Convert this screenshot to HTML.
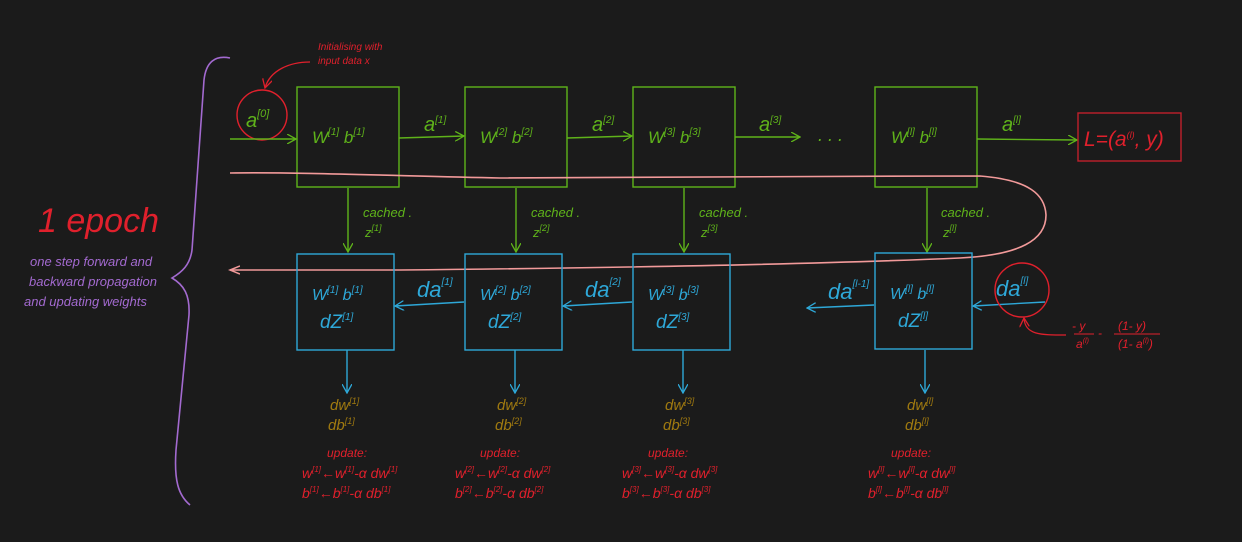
<!DOCTYPE html>
<html><head><meta charset="utf-8"><style>
html,body{margin:0;padding:0;background:#1b1b1b;}
svg{display:block}
text{font-family:"Liberation Sans",sans-serif;font-style:italic;}
</style></head><body>
<svg width="1242" height="542" viewBox="0 0 1242 542" xmlns="http://www.w3.org/2000/svg">
<rect width="1242" height="542" fill="#1b1b1b"/>
<defs>
<marker id="ag" markerWidth="10" markerHeight="10" refX="9" refY="5" orient="auto" markerUnits="userSpaceOnUse"><path d="M0,0 L9,5 L0,10" fill="none" stroke="#5fb31a" stroke-width="1.3"/></marker>
<marker id="ab" markerWidth="10" markerHeight="10" refX="9" refY="5" orient="auto" markerUnits="userSpaceOnUse"><path d="M0,0 L9,5 L0,10" fill="none" stroke="#2ea8d8" stroke-width="1.3"/></marker>
<marker id="ar" markerWidth="10" markerHeight="10" refX="9" refY="5" orient="auto" markerUnits="userSpaceOnUse"><path d="M0,0 L9,5 L0,10" fill="none" stroke="#e0202c" stroke-width="1.3"/></marker>
<marker id="ap" markerWidth="12" markerHeight="10" refX="10" refY="5" orient="auto" markerUnits="userSpaceOnUse"><path d="M0,1 L10,5 L0,9" fill="none" stroke="#f29a9a" stroke-width="1.5"/></marker>
</defs>

<!-- brace -->
<path d="M230,58 C215,55 206,62 204,80 L192,250 C190,265 182,272 172,278 C184,285 190,295 189,315 L176,450 C174,480 178,495 190,505" fill="none" stroke="#a36ad0" stroke-width="1.6"/>
<text x="38" y="232" fill="#e0202c" font-size="34" font-family="Liberation Serif">1 epoch</text>
<g fill="#a36ad0" font-size="13">
<text x="30" y="266">one step forward and</text>
<text x="29" y="286">backward propagation</text>
<text x="24" y="306">and updating weights</text>
</g>

<!-- input circle -->
<circle cx="262" cy="115" r="25" fill="none" stroke="#e0202c" stroke-width="1.4"/>
<text x="246" y="127" fill="#5fb31a" font-size="20">a<tspan dy="-10" font-size="11">[0]</tspan></text>
<path d="M310,62 C290,62 270,70 265,88" fill="none" stroke="#e0202c" stroke-width="1.3" marker-end="url(#ar)"/>
<g fill="#e0202c" font-size="10"><text x="318" y="50">Initialising with</text><text x="318" y="64">input data x</text></g>

<!-- green boxes -->
<g fill="none" stroke="#5fb31a" stroke-width="1.4">
<rect x="297" y="87" width="102" height="100"/>
<rect x="465" y="87" width="102" height="100"/>
<rect x="633" y="87" width="102" height="100"/>
<rect x="875" y="87" width="102" height="100"/>
<path d="M230,139 L296,139" marker-end="url(#ag)"/>
<path d="M399,138 L464,136" marker-end="url(#ag)"/>
<path d="M567,138 L632,136" marker-end="url(#ag)"/>
<path d="M735,137 L800,137" marker-end="url(#ag)"/>
<path d="M977,139 L1077,140" marker-end="url(#ag)"/>
<path d="M348,188 L348,252" marker-end="url(#ag)"/>
<path d="M516,188 L516,252" marker-end="url(#ag)"/>
<path d="M684,188 L684,252" marker-end="url(#ag)"/>
<path d="M927,188 L927,252" marker-end="url(#ag)"/>
</g>
<g fill="#5fb31a" font-size="17">
<text x="312" y="143">W<tspan dy="-8" font-size="10">[1]</tspan><tspan dy="8"> b</tspan><tspan dy="-8" font-size="10">[1]</tspan></text>
<text x="480" y="143">W<tspan dy="-8" font-size="10">[2]</tspan><tspan dy="8"> b</tspan><tspan dy="-8" font-size="10">[2]</tspan></text>
<text x="648" y="143">W<tspan dy="-8" font-size="10">[3]</tspan><tspan dy="8"> b</tspan><tspan dy="-8" font-size="10">[3]</tspan></text>
<text x="891" y="143">W<tspan dy="-8" font-size="10">[l]</tspan><tspan dy="8"> b</tspan><tspan dy="-8" font-size="10">[l]</tspan></text>
<text x="424" y="131" font-size="20">a<tspan dy="-8" font-size="10">[1]</tspan></text>
<text x="592" y="131" font-size="20">a<tspan dy="-8" font-size="10">[2]</tspan></text>
<text x="759" y="131" font-size="20">a<tspan dy="-8" font-size="10">[3]</tspan></text>
<text x="1002" y="131" font-size="20">a<tspan dy="-8" font-size="10">[l]</tspan></text>
<text x="818" y="141" font-size="18" font-style="normal">. . .</text>
<g font-size="13"><text x="363" y="217">cached .</text><text x="365" y="237">z<tspan dy="-6" font-size="9">[1]</tspan></text>
<text x="531" y="217">cached .</text><text x="533" y="237">z<tspan dy="-6" font-size="9">[2]</tspan></text>
<text x="699" y="217">cached .</text><text x="701" y="237">z<tspan dy="-6" font-size="9">[3]</tspan></text>
<text x="941" y="217">cached .</text><text x="943" y="237">z<tspan dy="-6" font-size="9">[l]</tspan></text></g>
</g>

<!-- loss box -->
<rect x="1078" y="113" width="103" height="48" fill="none" stroke="#c0202c" stroke-width="1.4"/>
<text x="1084" y="146" fill="#e0202c" font-size="21">L=(a<tspan dy="-8" font-size="9">(l)</tspan><tspan dy="8">, y)</tspan></text>

<!-- pink loop -->
<path d="M230,173 C300,172 400,176 500,178 C600,178 800,176 980,176 C1030,180 1045,195 1046,215 C1046,240 1020,255 960,258 C800,265 600,268 400,270 C330,270 280,270 230,270" fill="none" stroke="#f29a9a" stroke-width="1.6" marker-end="url(#ap)"/>

<!-- blue boxes -->
<g fill="none" stroke="#2ea8d8" stroke-width="1.4">
<rect x="297" y="254" width="97" height="96"/>
<rect x="465" y="254" width="97" height="96"/>
<rect x="633" y="254" width="97" height="96"/>
<rect x="875" y="253" width="97" height="96"/>
<path d="M464,302 L395,306" marker-end="url(#ab)"/>
<path d="M632,302 L563,306" marker-end="url(#ab)"/>
<path d="M874,305 L807,308" marker-end="url(#ab)"/>
<path d="M1045,302 L973,306" marker-end="url(#ab)"/>
<path d="M347,350 L347,393" marker-end="url(#ab)"/>
<path d="M515,350 L515,393" marker-end="url(#ab)"/>
<path d="M683,350 L683,393" marker-end="url(#ab)"/>
<path d="M925,350 L925,393" marker-end="url(#ab)"/>
</g>
<g fill="#2ea8d8" font-size="16">
<text x="312" y="300">W<tspan dy="-7" font-size="10">[1]</tspan><tspan dy="7"> b</tspan><tspan dy="-7" font-size="10">[1]</tspan></text>
<text x="320" y="328" font-size="19">dZ<tspan dy="-8" font-size="10">[1]</tspan></text>
<text x="480" y="300">W<tspan dy="-7" font-size="10">[2]</tspan><tspan dy="7"> b</tspan><tspan dy="-7" font-size="10">[2]</tspan></text>
<text x="488" y="328" font-size="19">dZ<tspan dy="-8" font-size="10">[2]</tspan></text>
<text x="648" y="300">W<tspan dy="-7" font-size="10">[3]</tspan><tspan dy="7"> b</tspan><tspan dy="-7" font-size="10">[3]</tspan></text>
<text x="656" y="328" font-size="19">dZ<tspan dy="-8" font-size="10">[3]</tspan></text>
<text x="890" y="299">W<tspan dy="-7" font-size="10">[l]</tspan><tspan dy="7"> b</tspan><tspan dy="-7" font-size="10">[l]</tspan></text>
<text x="898" y="327" font-size="19">dZ<tspan dy="-8" font-size="10">[l]</tspan></text>
<text x="417" y="297" font-size="22">da<tspan dy="-12" font-size="10">[1]</tspan></text>
<text x="585" y="297" font-size="22">da<tspan dy="-12" font-size="10">[2]</tspan></text>
<text x="828" y="299" font-size="22">da<tspan dy="-12" font-size="10">[l-1]</tspan></text>
<text x="996" y="296" font-size="22">da<tspan dy="-12" font-size="10">[l]</tspan></text>
</g>
<circle cx="1022" cy="290" r="27" fill="none" stroke="#e0202c" stroke-width="1.4"/>
<path d="M1066,335 C1040,335 1025,335 1024,318" fill="none" stroke="#e0202c" stroke-width="1.3" marker-end="url(#ar)"/>
<g fill="#e0202c" font-size="12">
<text x="1072" y="330">- y</text><line x1="1074" y1="334" x2="1094" y2="334" stroke="#e0202c"/><text x="1076" y="348">a<tspan dy="-5" font-size="7">(l)</tspan></text>
<text x="1098" y="337">-</text>
<text x="1118" y="330">(1- y)</text><line x1="1114" y1="334" x2="1160" y2="334" stroke="#e0202c"/><text x="1118" y="348">(1- a<tspan dy="-5" font-size="7">(l)</tspan><tspan dy="5">)</tspan></text>
</g>

<!-- dw db -->
<g fill="#a07a10" font-size="15">
<text x="330" y="410">dw<tspan dy="-6" font-size="9">[1]</tspan></text><text x="328" y="430">db<tspan dy="-6" font-size="9">[1]</tspan></text>
<text x="497" y="410">dw<tspan dy="-6" font-size="9">[2]</tspan></text><text x="495" y="430">db<tspan dy="-6" font-size="9">[2]</tspan></text>
<text x="665" y="410">dw<tspan dy="-6" font-size="9">[3]</tspan></text><text x="663" y="430">db<tspan dy="-6" font-size="9">[3]</tspan></text>
<text x="907" y="410">dw<tspan dy="-6" font-size="9">[l]</tspan></text><text x="905" y="430">db<tspan dy="-6" font-size="9">[l]</tspan></text>
</g>
<!-- updates -->
<g fill="#e0202c" font-size="14">
<g font-size="12"><text x="327" y="457">update:</text><text x="480" y="457">update:</text><text x="648" y="457">update:</text><text x="891" y="457">update:</text></g>
<text x="302" y="478">w<tspan dy="-6" font-size="8">[1]</tspan><tspan dy="6">←w</tspan><tspan dy="-6" font-size="8">[1]</tspan><tspan dy="6">-α dw</tspan><tspan dy="-6" font-size="8">[1]</tspan></text>
<text x="302" y="498">b<tspan dy="-6" font-size="8">[1]</tspan><tspan dy="6">←b</tspan><tspan dy="-6" font-size="8">[1]</tspan><tspan dy="6">-α db</tspan><tspan dy="-6" font-size="8">[1]</tspan></text>
<text x="455" y="478">w<tspan dy="-6" font-size="8">[2]</tspan><tspan dy="6">←w</tspan><tspan dy="-6" font-size="8">[2]</tspan><tspan dy="6">-α dw</tspan><tspan dy="-6" font-size="8">[2]</tspan></text>
<text x="455" y="498">b<tspan dy="-6" font-size="8">[2]</tspan><tspan dy="6">←b</tspan><tspan dy="-6" font-size="8">[2]</tspan><tspan dy="6">-α db</tspan><tspan dy="-6" font-size="8">[2]</tspan></text>
<text x="622" y="478">w<tspan dy="-6" font-size="8">[3]</tspan><tspan dy="6">←w</tspan><tspan dy="-6" font-size="8">[3]</tspan><tspan dy="6">-α dw</tspan><tspan dy="-6" font-size="8">[3]</tspan></text>
<text x="622" y="498">b<tspan dy="-6" font-size="8">[3]</tspan><tspan dy="6">←b</tspan><tspan dy="-6" font-size="8">[3]</tspan><tspan dy="6">-α db</tspan><tspan dy="-6" font-size="8">[3]</tspan></text>
<text x="868" y="478">w<tspan dy="-6" font-size="8">[l]</tspan><tspan dy="6">←w</tspan><tspan dy="-6" font-size="8">[l]</tspan><tspan dy="6">-α dw</tspan><tspan dy="-6" font-size="8">[l]</tspan></text>
<text x="868" y="498">b<tspan dy="-6" font-size="8">[l]</tspan><tspan dy="6">←b</tspan><tspan dy="-6" font-size="8">[l]</tspan><tspan dy="6">-α db</tspan><tspan dy="-6" font-size="8">[l]</tspan></text>
</g>
</svg>
</body></html>
